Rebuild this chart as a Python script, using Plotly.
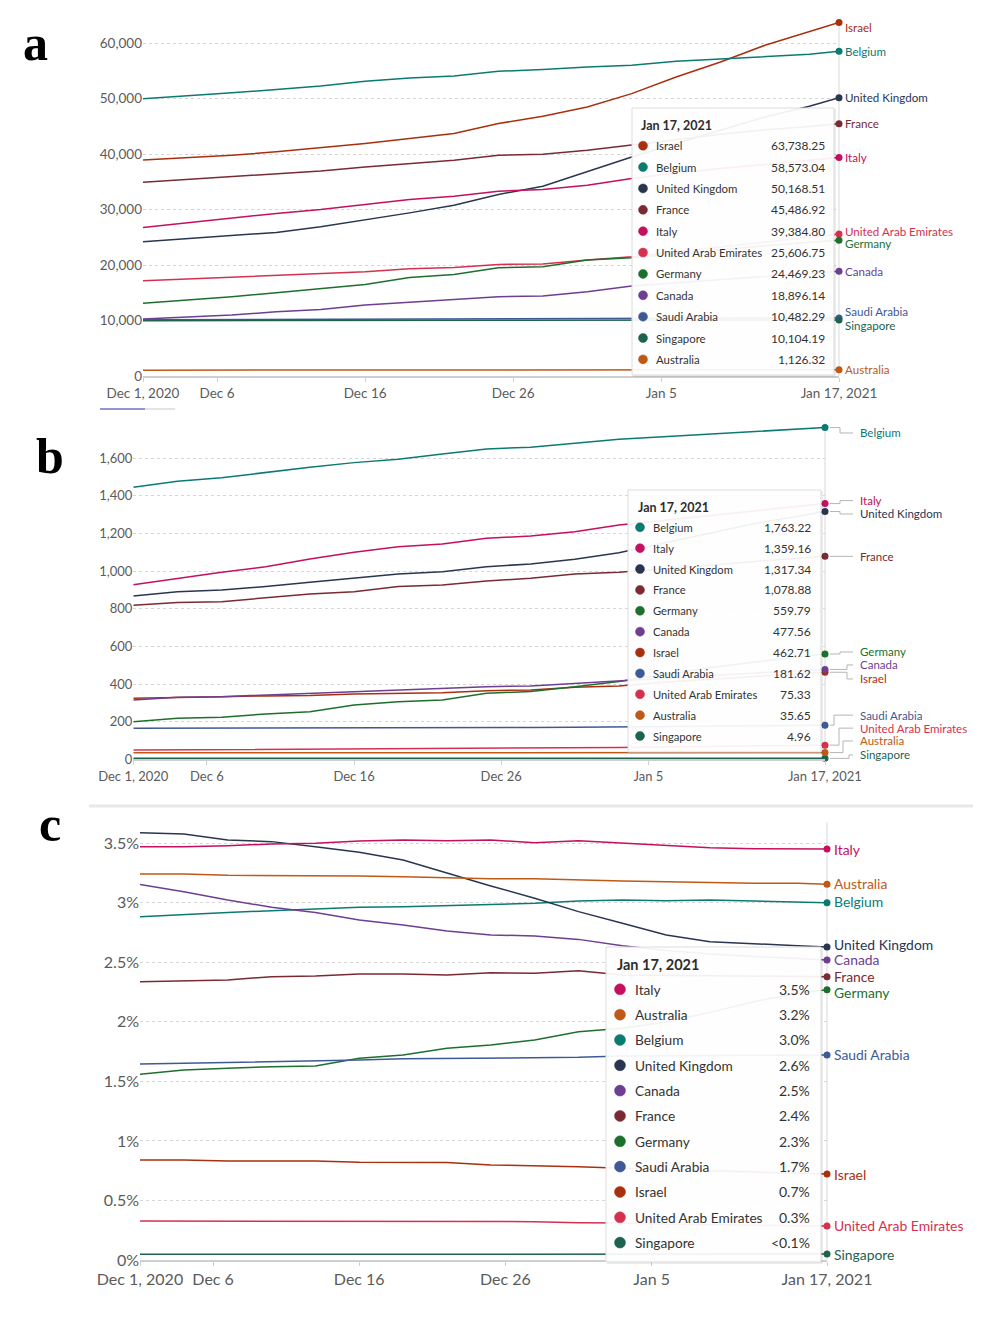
import plotly.graph_objects as go

W, H = 996, 1321
FONT = "Lato, 'Open Sans', sans-serif"

# sample dates (every ~3 days, Dec 1 2020 -> Jan 17 2021)
DATES = ["2020-12-01", "2020-12-04", "2020-12-07", "2020-12-10", "2020-12-13",
         "2020-12-16", "2020-12-19", "2020-12-22", "2020-12-25", "2020-12-28",
         "2020-12-31", "2021-01-03", "2021-01-06", "2021-01-09", "2021-01-12",
         "2021-01-15", "2021-01-17"]
TICK_DATES = ["2020-12-01", "2020-12-06", "2020-12-16", "2020-12-26", "2021-01-05", "2021-01-17"]
TICK_TEXT = ["Dec 1, 2020", "Dec 6", "Dec 16", "Dec 26", "Jan 5", "Jan 17, 2021"]
TOOLTIP_TITLE = "Jan 17, 2021"

COUNTRIES = ["Israel", "Belgium", "United Kingdom", "France", "Italy",
             "United Arab Emirates", "Germany", "Canada", "Saudi Arabia",
             "Singapore", "Australia"]
COLORS = {
    "Israel": "#a8300f", "Belgium": "#0b7b72", "United Kingdom": "#2a3550",
    "France": "#7a2a32", "Italy": "#c4105e", "United Arab Emirates": "#d6304f",
    "Germany": "#1e6f2d", "Canada": "#6d3e91", "Saudi Arabia": "#3e5a95",
    "Singapore": "#1d6350", "Australia": "#c05917",
}

# (a) confirmed cases per million
CASES_ISRAEL = [38970, 39400, 39820, 40420, 41140, 41920, 42820, 43730, 45530, 46850,
                48520, 50930, 53930, 56630, 59640, 62040, 63738.25]
CASES_BELGIUM = [50000, 50500, 51100, 51650, 52300, 53150, 53750, 54100, 54950, 55260,
                 55730, 56040, 56760, 57180, 57600, 58020, 58573.04]
CASES_UK = [24200, 24800, 25400, 25890, 26900, 28100, 29420, 30810, 32730, 34230,
            36810, 39510, 41930, 44320, 46720, 48650, 50168.51]
CASES_FRANCE = [34950, 35440, 35910, 36400, 36990, 37710, 38320, 38920, 39820, 40000,
                40720, 41620, 42600, 43600, 44400, 45000, 45486.92]
CASES_ITALY = [26790, 27630, 28590, 29310, 30030, 31000, 31840, 32430, 33330, 33630,
               34410, 35620, 36600, 37400, 38200, 38900, 39384.80]
CASES_UAE = [17170, 17480, 17780, 18200, 18500, 18800, 19340, 19580, 20120, 20180,
             20900, 21500, 22400, 23300, 24200, 25000, 25606.75]
CASES_GERMANY = [13100, 13690, 14290, 15010, 15800, 16520, 17780, 18320, 19510, 19690,
                 20900, 21310, 22000, 22800, 23500, 24100, 24469.23]
CASES_CANADA = [10270, 10690, 10990, 11590, 12010, 12790, 13270, 13820, 14290, 14410,
                15190, 16220, 16800, 17400, 18000, 18600, 18896.14]
CASES_SAUDI = [10150, 10170, 10195, 10215, 10240, 10262, 10280, 10300, 10322, 10340,
               10362, 10385, 10405, 10428, 10450, 10470, 10482.29]
CASES_SINGAPORE = [9980, 9992, 10000, 10008, 10020, 10028, 10040, 10048, 10058, 10064,
                   10070, 10076, 10081, 10086, 10092, 10098, 10104.19]
CASES_AUSTRALIA = [1055, 1061, 1066, 1070, 1076, 1080, 1086, 1091, 1095, 1100,
                   1105, 1110, 1114, 1118, 1121, 1124, 1126.32]

# (b) deaths per million
DEATHS_BELGIUM = [1446, 1478, 1497, 1526, 1552, 1577, 1595, 1623, 1650, 1659,
                  1680, 1701, 1715, 1729, 1742, 1756, 1763.22]
DEATHS_ITALY = [928, 962, 994, 1024, 1065, 1100, 1130, 1145, 1175, 1187,
                1210, 1246, 1270, 1295, 1320, 1342, 1359.16]
DEATHS_UK = [868, 891, 900, 918, 941, 962, 985, 997, 1024, 1038,
             1063, 1098, 1150, 1200, 1250, 1290, 1317.34]
DEATHS_FRANCE = [819, 834, 838, 859, 879, 891, 918, 927, 948, 962,
                 985, 994, 1010, 1030, 1050, 1068, 1078.88]
DEATHS_GERMANY = [200, 218, 223, 241, 253, 289, 306, 315, 351, 360,
                  386, 413, 450, 485, 515, 540, 559.79]
DEATHS_CANADA = [315, 330, 333, 342, 351, 359, 368, 377, 386, 390,
                 404, 416, 430, 445, 458, 470, 477.56]
DEATHS_ISRAEL = [324, 330, 333, 337, 339, 347, 349, 354, 365, 368,
                 383, 390, 410, 425, 440, 455, 462.71]
DEATHS_SAUDI = [165, 165, 165, 165, 166, 168, 168, 168, 169, 169,
                170, 172, 174, 176, 178, 180, 181.62]
DEATHS_UAE = [49, 50, 55, 55, 55, 55, 56, 60, 61, 62,
              62, 63, 66, 69, 71, 74, 75.33]
DEATHS_AUSTRALIA = [34.6, 34.7, 34.8, 34.9, 35.0, 35.1, 35.2, 35.3, 35.4, 35.4,
                    35.5, 35.5, 35.6, 35.6, 35.6, 35.65, 35.65]
DEATHS_SINGAPORE = [4.96, 4.96, 4.96, 4.96, 4.96, 4.96, 4.96, 4.96, 4.96, 4.96,
                    4.96, 4.96, 4.96, 4.96, 4.96, 4.96, 4.96]

# (c) case fatality rate, %
CFR_UK = [3.589, 3.578, 3.528, 3.514, 3.472, 3.424, 3.36, 3.248, 3.142, 3.038,
          2.926, 2.828, 2.73, 2.674, 2.655, 2.64, 2.63]
CFR_ITALY = [3.472, 3.472, 3.48, 3.494, 3.5, 3.52, 3.528, 3.522, 3.528, 3.505,
             3.522, 3.5, 3.48, 3.462, 3.455, 3.455, 3.452]
CFR_AUSTRALIA = [3.242, 3.242, 3.231, 3.231, 3.228, 3.226, 3.22, 3.211, 3.203, 3.203,
                 3.192, 3.183, 3.178, 3.169, 3.164, 3.164, 3.156]
CFR_BELGIUM = [2.884, 2.904, 2.918, 2.934, 2.946, 2.963, 2.968, 2.976, 2.99, 2.996,
               3.016, 3.024, 3.018, 3.024, 3.016, 3.01, 3.001]
CFR_CANADA = [3.155, 3.094, 3.024, 2.963, 2.918, 2.856, 2.814, 2.764, 2.73, 2.722,
              2.693, 2.64, 2.6, 2.57, 2.55, 2.53, 2.52]
CFR_FRANCE = [2.338, 2.346, 2.352, 2.38, 2.386, 2.402, 2.402, 2.394, 2.413, 2.408,
              2.43, 2.394, 2.39, 2.385, 2.385, 2.38, 2.38]
CFR_GERMANY = [1.56, 1.596, 1.61, 1.624, 1.63, 1.694, 1.722, 1.778, 1.806, 1.848,
               1.918, 1.946, 2.0, 2.08, 2.17, 2.24, 2.27]
CFR_SAUDI = [1.646, 1.652, 1.657, 1.666, 1.674, 1.68, 1.691, 1.694, 1.694, 1.694,
             1.702, 1.714, 1.716, 1.718, 1.72, 1.72, 1.722]
CFR_ISRAEL = [0.84, 0.84, 0.832, 0.832, 0.832, 0.82, 0.818, 0.818, 0.798, 0.792,
              0.784, 0.77, 0.76, 0.75, 0.74, 0.73, 0.722]
CFR_UAE = [0.328, 0.328, 0.322, 0.322, 0.322, 0.322, 0.322, 0.322, 0.322, 0.322,
           0.313, 0.31, 0.3, 0.296, 0.292, 0.289, 0.286]
CFR_SINGAPORE = [0.048, 0.048, 0.048, 0.048, 0.048, 0.048, 0.05, 0.05, 0.05, 0.05,
                 0.05, 0.05, 0.05, 0.05, 0.05, 0.05, 0.05]

YTICKS_A = [0, 10000, 20000, 30000, 40000, 50000, 60000]
YTICKS_B = [0, 200, 400, 600, 800, 1000, 1200, 1400, 1600]
YTICKS_C = [0, 0.5, 1, 1.5, 2, 2.5, 3, 3.5]

cases = {"Israel": CASES_ISRAEL, "Belgium": CASES_BELGIUM, "United Kingdom": CASES_UK,
         "France": CASES_FRANCE, "Italy": CASES_ITALY, "United Arab Emirates": CASES_UAE,
         "Germany": CASES_GERMANY, "Canada": CASES_CANADA, "Saudi Arabia": CASES_SAUDI,
         "Singapore": CASES_SINGAPORE, "Australia": CASES_AUSTRALIA}
deaths = {"Israel": DEATHS_ISRAEL, "Belgium": DEATHS_BELGIUM, "United Kingdom": DEATHS_UK,
          "France": DEATHS_FRANCE, "Italy": DEATHS_ITALY, "United Arab Emirates": DEATHS_UAE,
          "Germany": DEATHS_GERMANY, "Canada": DEATHS_CANADA, "Saudi Arabia": DEATHS_SAUDI,
          "Singapore": DEATHS_SINGAPORE, "Australia": DEATHS_AUSTRALIA}
cfr = {"Israel": CFR_ISRAEL, "Belgium": CFR_BELGIUM, "United Kingdom": CFR_UK,
       "France": CFR_FRANCE, "Italy": CFR_ITALY, "United Arab Emirates": CFR_UAE,
       "Germany": CFR_GERMANY, "Canada": CFR_CANADA, "Saudi Arabia": CFR_SAUDI,
       "Singapore": CFR_SINGAPORE, "Australia": CFR_AUSTRALIA}


def fmt_num(v):
    return f"{v:,.2f}"


def fmt_pct(v):
    return "<0.1%" if v < 0.1 else f"{v:.1f}%"


def tick_num(v):
    return f"{v:,}"


def tick_pct(v):
    return f"{v:g}%"


# panel geometry in pixels of the 996x1321 page
PANELS = [
    dict(letter="a", data=cases, x0=143, x1=839, y_zero=376, y_ref=(43.3, 60000), ymax=64500,
         yticks=YTICKS_A, ytick_fmt=tick_num, tick_size=13.5, fmt=fmt_num,
         letter_xy=(35, 43),
         label=dict(x=843, size=11.6, nudge={"Israel": 5, "United Arab Emirates": -3,
                                             "Germany": 3, "Saudi Arabia": -6, "Singapore": 6}),
         tip=dict(box=(632, 108, 834, 375), title_xy=(639, 125), row0=145.7, step=21.37,
                  dot_x=643, r=4.5, name_x=654, val_x=827, size=11.4, vsize=12, title_size=12.5)),
    dict(letter="b", data=deaths, x0=133.3, x1=825, y_zero=759.3, y_ref=(458.3, 1600), ymax=1800,
         yticks=YTICKS_B, ytick_fmt=tick_num, tick_size=13, fmt=fmt_num,
         letter_xy=(50, 456),
         label=dict(x=858, size=11.5, elbow=True,
                    nudge={"Belgium": 5.4, "Italy": -3, "United Kingdom": 2.5, "Germany": -2,
                           "Canada": -4.5, "Israel": 6.7, "Saudi Arabia": -10,
                           "United Arab Emirates": -17, "Australia": -11.6, "Singapore": -3.4},
                    elbows={"Canada": 847, "Israel": 847, "Saudi Arabia": 834,
                            "United Arab Emirates": 839, "Australia": 843, "Singapore": 849}),
         tip=dict(box=(628, 490, 821, 752), title_xy=(636, 507), row0=527.3, step=20.87,
                  dot_x=640, r=4.5, name_x=651, val_x=813, size=11.2, vsize=12, title_size=12.5)),
    dict(letter="c", data=cfr, x0=140, x1=827, y_zero=1260, y_ref=(843.3, 3.5), ymax=3.7,
         yticks=YTICKS_C, ytick_fmt=tick_pct, tick_size=16, fmt=fmt_pct,
         letter_xy=(50, 824),
         label=dict(x=832, size=13.9, nudge={"Australia": -1, "Belgium": -1,
                                             "United Kingdom": -2.7, "Germany": 2.7}),
         tip=dict(box=(606, 947, 821, 1262), title_xy=(615, 964), row0=989.3, step=25.33,
                  dot_x=620, r=5.5, name_x=633, val_x=812, size=13.7, vsize=14, title_size=14.5)),
]

px_x = lambda p: p / W
px_y = lambda p: 1 - p / H

fig = go.Figure()
layout = dict(width=W, height=H, margin=dict(l=0, r=0, t=0, b=0, autoexpand=False),
              paper_bgcolor="white", plot_bgcolor="white", showlegend=False,
              font=dict(family=FONT, color="#5b5b5b"))
shapes, annos = [], []

for i, p in enumerate(PANELS):
    n = "" if i == 0 else str(i + 1)
    scale = (p["y_zero"] - p["y_ref"][0]) / p["y_ref"][1]
    to_px = lambda v, s=scale, z=p["y_zero"]: z - v * s
    top_px = to_px(p["ymax"])
    xdom = [px_x(p["x0"]), px_x(p["x1"])]
    ydom = [px_y(p["y_zero"]), px_y(top_px)]
    tfs = p["tick_size"]
    layout["xaxis" + n] = dict(domain=xdom, anchor="y" + n, type="date", automargin=False,
                               range=[DATES[0], DATES[-1]], tickvals=TICK_DATES, ticktext=TICK_TEXT,
                               showgrid=False, showline=True, linecolor="#cfcfcf", linewidth=1.5,
                               ticks="outside", ticklen=4, tickcolor="#cfcfcf",
                               tickfont=dict(size=tfs, color="#5b5b5b"), fixedrange=True)
    layout["yaxis" + n] = dict(domain=ydom, anchor="x" + n, range=[0, p["ymax"]], automargin=False,
                               tickvals=p["yticks"], ticktext=[p["ytick_fmt"](v) for v in p["yticks"]],
                               showgrid=True, gridcolor="#d6d6d6", griddash="dot", gridwidth=1,
                               zeroline=False, showline=False, ticks="",
                               tickfont=dict(size=tfs, color="#5b5b5b"), fixedrange=True)

    data = p["data"]
    for c in COUNTRIES:
        vals = data[c]
        fig.add_trace(go.Scatter(x=DATES, y=vals, mode="lines", name=c,
                                 line=dict(color=COLORS[c], width=1.5),
                                 xaxis="x" + n, yaxis="y" + n, hoverinfo="skip"))
    # hover guide line at last date
    shapes.append(dict(type="line", xref="paper", yref="paper",
                       x0=px_x(p["x1"]), x1=px_x(p["x1"]), y0=ydom[0], y1=ydom[1] - 0.002,
                       line=dict(color="#d9d9d9", width=1), layer="below"))
    for c in COUNTRIES:
        vals = data[c]
        fig.add_trace(go.Scatter(x=[DATES[-1]], y=[vals[-1]], mode="markers", name=c,
                                 marker=dict(color=COLORS[c], size=7), cliponaxis=False,
                                 xaxis="x" + n, yaxis="y" + n, hoverinfo="skip"))

    # end labels
    lab = p["label"]
    for c in COUNTRIES:
        end_px = to_px(data[c][-1])
        lab_px = end_px + lab["nudge"].get(c, 0)
        if lab.get("elbow"):
            ex = lab["elbows"].get(c, 840)
            path = (f"M {px_x(p['x1'] + 5)} {px_y(end_px)} L {px_x(ex)} {px_y(end_px)} "
                    f"L {px_x(ex)} {px_y(lab_px)} L {px_x(lab['x'] - 5)} {px_y(lab_px)}")
            shapes.append(dict(type="path", xref="paper", yref="paper", path=path,
                               line=dict(color="#b5b5b5", width=1)))
        annos.append(dict(x=px_x(lab["x"]), y=px_y(lab_px), xref="paper", yref="paper",
                          text=c, showarrow=False, xanchor="left", yanchor="middle",
                          font=dict(size=lab["size"], color=COLORS[c], family=FONT)))

    # tooltip box
    t = p["tip"]
    bx0, by0, bx1, by1 = t["box"]
    shapes.append(dict(type="rect", xref="paper", yref="paper", layer="above",
                       x0=px_x(bx0 + 1), x1=px_x(bx1 + 2), y0=px_y(by1 + 2), y1=px_y(by0 + 1),
                       fillcolor="rgba(0,0,0,0.07)", line=dict(width=0)))
    shapes.append(dict(type="rect", xref="paper", yref="paper", layer="above",
                       x0=px_x(bx0), x1=px_x(bx1), y0=px_y(by1), y1=px_y(by0),
                       fillcolor="rgba(255,255,255,0.93)", line=dict(color="#dcdcdc", width=1)))
    annos.append(dict(x=px_x(t["title_xy"][0]), y=px_y(t["title_xy"][1]), xref="paper", yref="paper",
                      text=f"<b>{TOOLTIP_TITLE}</b>", showarrow=False, xanchor="left", yanchor="middle",
                      font=dict(size=t["title_size"], color="#2d2d2d", family=FONT)))
    order = sorted(COUNTRIES, key=lambda c: data[c][-1], reverse=True)
    for k, c in enumerate(order):
        yy = t["row0"] + k * t["step"]
        r = t["r"]
        shapes.append(dict(type="circle", xref="paper", yref="paper", layer="above",
                           x0=px_x(t["dot_x"] - r), x1=px_x(t["dot_x"] + r),
                           y0=px_y(yy + r), y1=px_y(yy - r),
                           fillcolor=COLORS[c], line=dict(color=COLORS[c], width=0.5)))
        annos.append(dict(x=px_x(t["name_x"]), y=px_y(yy), xref="paper", yref="paper",
                          text=c, showarrow=False, xanchor="left", yanchor="middle",
                          font=dict(size=t["size"], color="#333333", family=FONT)))
        annos.append(dict(x=px_x(t["val_x"]), y=px_y(yy), xref="paper", yref="paper",
                          text=p["fmt"](data[c][-1]), showarrow=False, xanchor="right",
                          yanchor="middle", font=dict(size=t["vsize"], color="#333333", family=FONT)))

    # panel letter
    lx, ly = p["letter_xy"]
    annos.append(dict(x=px_x(lx), y=px_y(ly), xref="paper", yref="paper", text=f"<b>{p['letter']}</b>",
                      showarrow=False, xanchor="center", yanchor="middle",
                      font=dict(size=50, color="black", family="'Liberation Serif', 'DejaVu Serif', serif")))

# leftover slider bar under panel a and separator above panel c
shapes.append(dict(type="line", xref="paper", yref="paper", x0=px_x(100), x1=px_x(145),
                   y0=px_y(409), y1=px_y(409), line=dict(color="#8f98cc", width=2)))
shapes.append(dict(type="line", xref="paper", yref="paper", x0=px_x(145), x1=px_x(175),
                   y0=px_y(409), y1=px_y(409), line=dict(color="#e3e3e3", width=2)))
shapes.append(dict(type="line", xref="paper", yref="paper", x0=px_x(89), x1=px_x(973),
                   y0=px_y(806), y1=px_y(806), line=dict(color="#e8e8e8", width=3)))

layout["shapes"] = shapes
layout["annotations"] = annos
fig.update_layout(**layout)
# drop the browser's default 8px body margin so the figure sits at the page corner
fig.write_html("out.html", config={"displayModeBar": False},
               post_script="document.body.style.margin='0';")
